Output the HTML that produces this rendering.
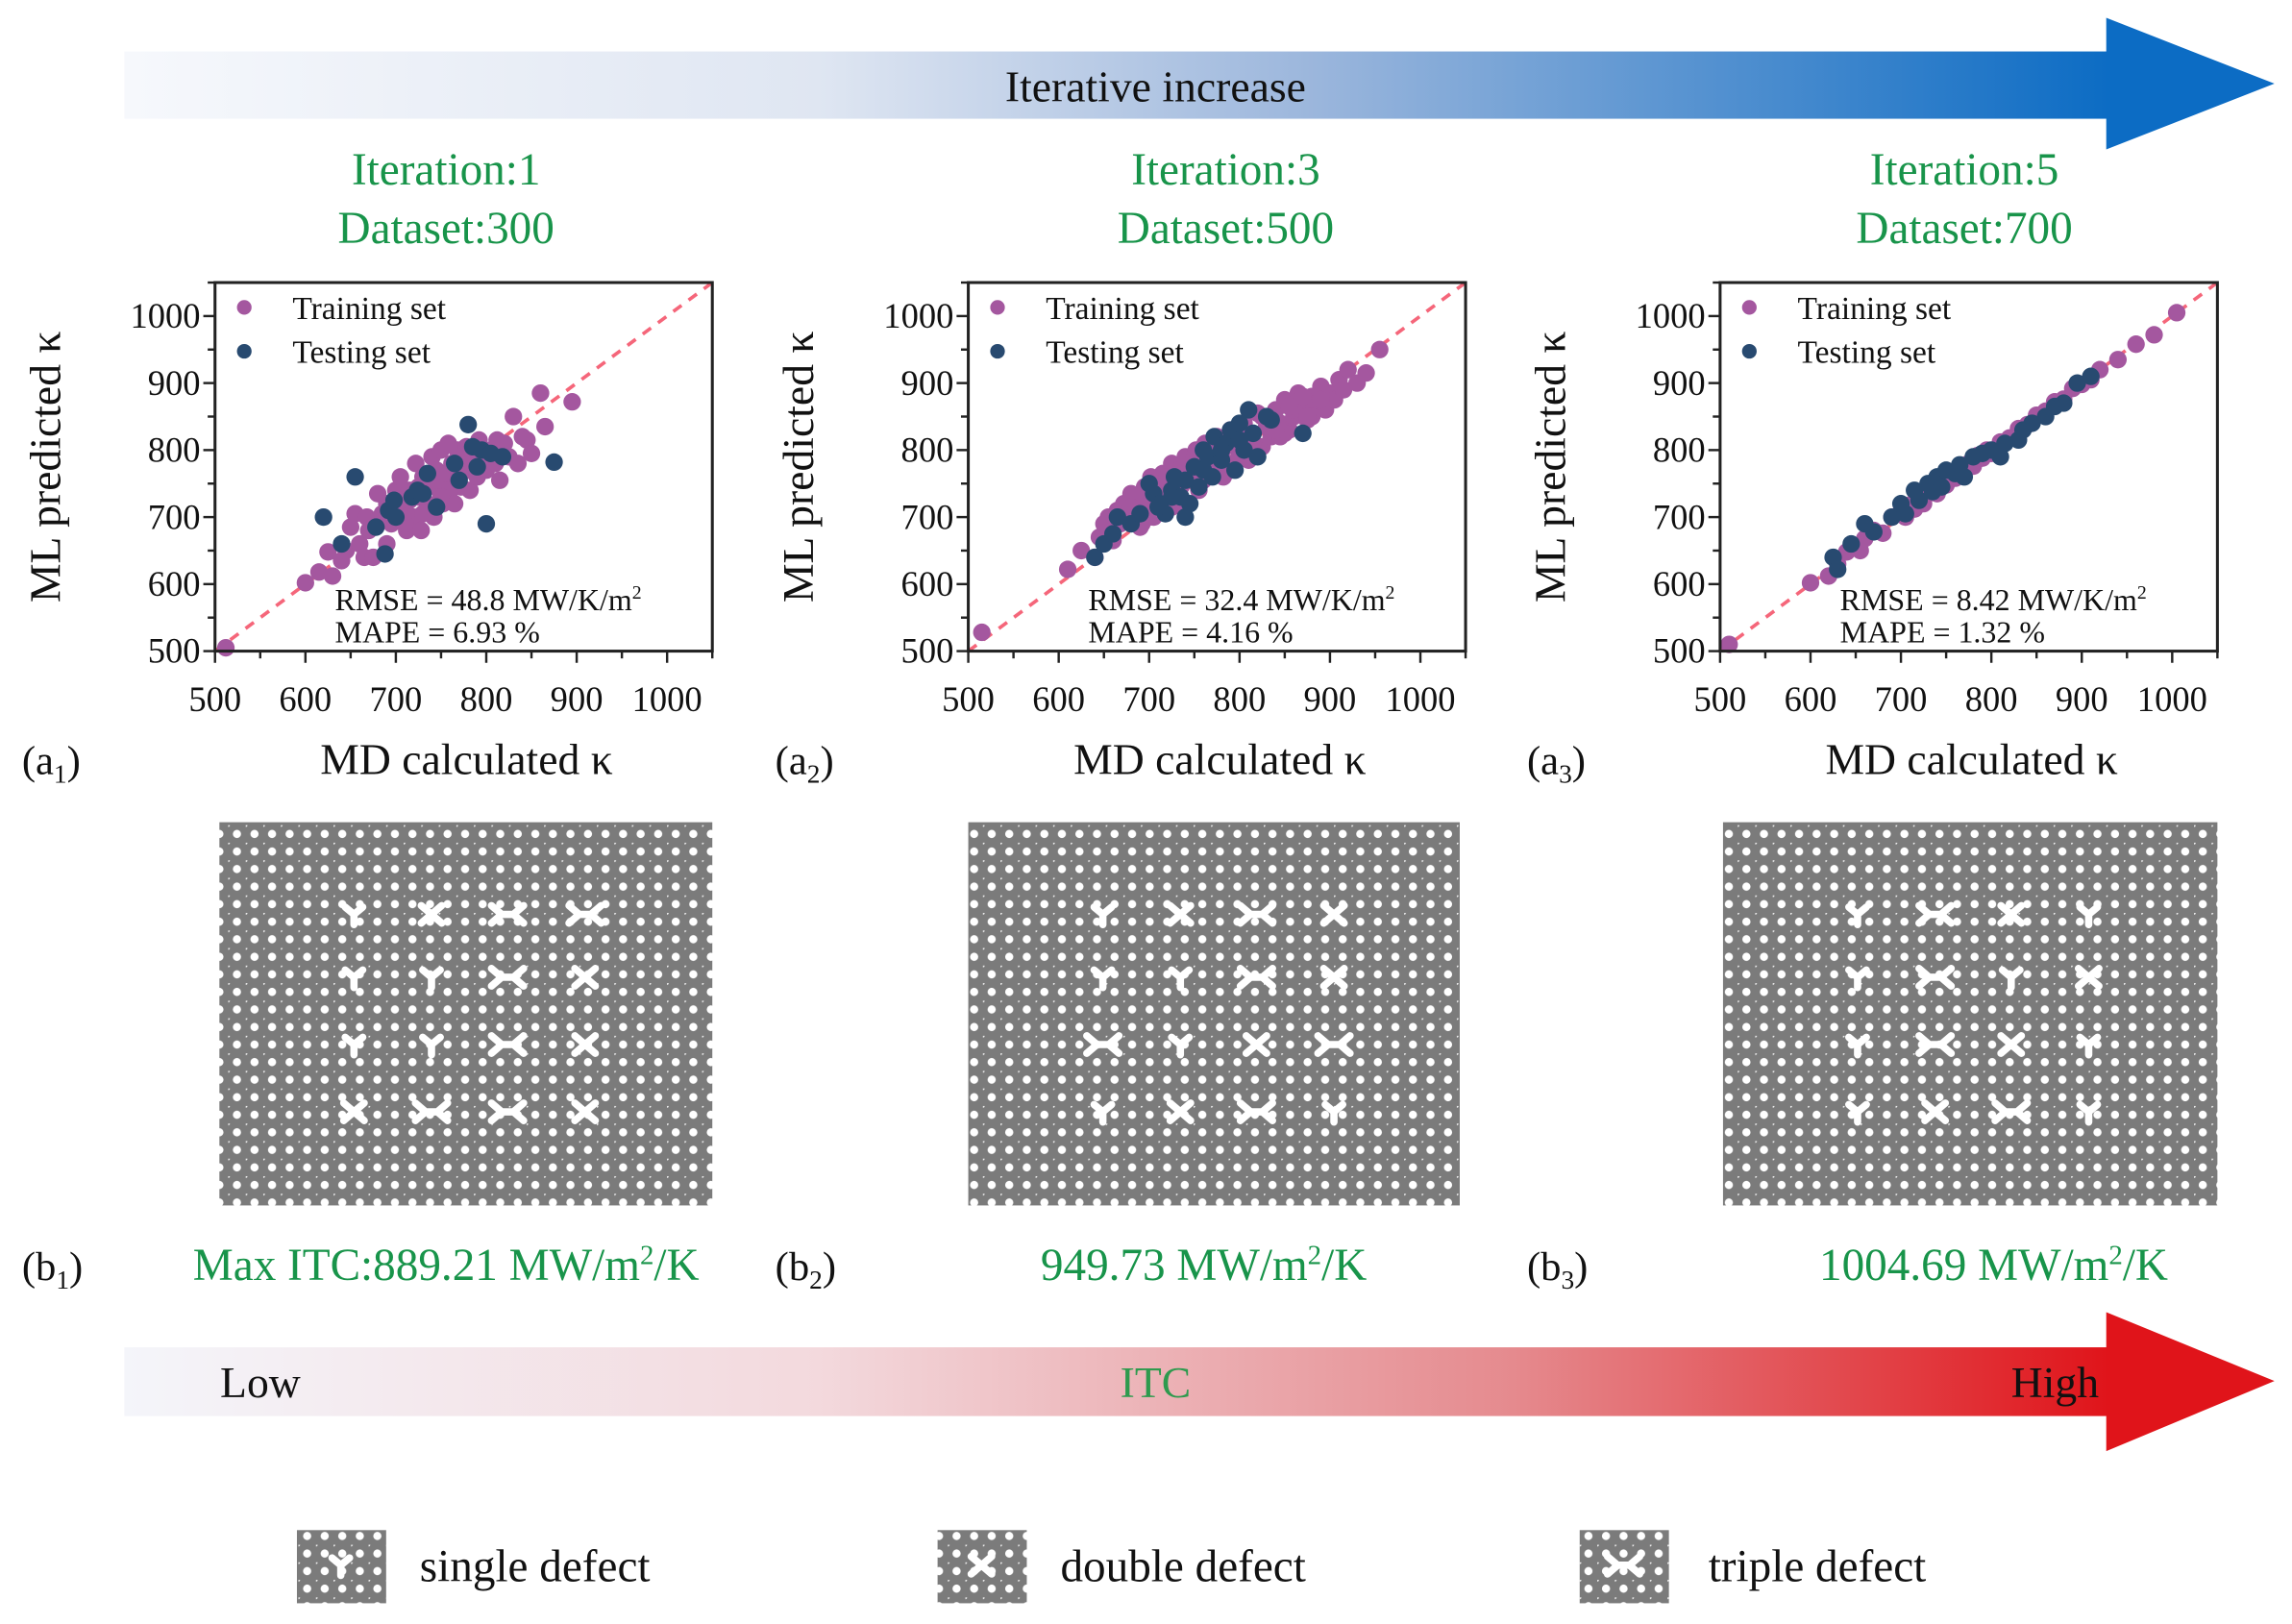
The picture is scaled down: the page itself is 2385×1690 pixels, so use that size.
<!DOCTYPE html>
<html><head><meta charset="utf-8"><style>
html,body{margin:0;padding:0;background:#fff}
svg{display:block;font-family:"Liberation Serif","DejaVu Serif",serif}
svg text{font-family:"Liberation Serif","DejaVu Serif",serif}
</style></head><body>
<svg id="fig" width="2385" height="1690" viewBox="0 0 1567 1110" font-family="Liberation Serif, DejaVu Serif, serif" xmlns="http://www.w3.org/2000/svg">
<defs>
<linearGradient id="gBlue" x1="0" x2="1" y1="0" y2="0"><stop offset="0" stop-color="#f6f8fc"/><stop offset="0.35" stop-color="#dfe6f2"/><stop offset="0.6" stop-color="#9bb6dc"/><stop offset="1" stop-color="#0c6cc4"/></linearGradient>
<linearGradient id="gRed" x1="0" x2="1" y1="0" y2="0"><stop offset="0" stop-color="#f4f5fa"/><stop offset="0.35" stop-color="#f3d9dd"/><stop offset="0.7" stop-color="#e58a8e"/><stop offset="1" stop-color="#e0141a"/></linearGradient>
<pattern id="lat" width="12" height="12" patternUnits="userSpaceOnUse"><rect width="12" height="12" fill="#7b7b7b"/><circle cx="6" cy="6" r="2.8" fill="#fff"/><circle cx="0" cy="0" r="1.2" fill="#eee"/></pattern>
</defs>
<g>
<rect x="85" y="35" width="1357" height="46" fill="url(#gBlue)"/>
<polygon points="1440,12 1555,57 1440,102" fill="#0c6cc4"/>
<text x="790" y="69" font-size="30" text-anchor="middle" fill="#111">Iterative increase</text>
</g>
<g id="plots"></g>
<g>
<rect x="85" y="921" width="1357" height="47" fill="url(#gRed)"/>
<polygon points="1440,897 1555,944 1440,992" fill="#e0141a"/>
<text x="178" y="955" font-size="30" text-anchor="middle" fill="#111">Low</text>
<text x="790" y="955" font-size="30" text-anchor="middle" fill="#2e9a4e">ITC</text>
<text x="1405" y="955" font-size="30" text-anchor="middle" fill="#111">High</text>
</g>
<g id="legend2"></g>
</svg>
<script>
const ticks=[500,600,700,800,900,1000];
const titles1=["Iteration:1","Iteration:3","Iteration:5"];
const titles2=["Dataset:300","Dataset:500","Dataset:700"];
const rmse=["48.8","32.4","8.42"];
const mape=["6.93","4.16","1.32"];
const itc=["Max ITC:889.21 MW/m²/K","949.73 MW/m²/K","1004.69 MW/m²/K"];
const train1X=[512,600,615,625,630,640,645,650,655,660,665,668,670,675,680,685,690,690,695,700,700,705,710,712,715,720,722,725,728,730,735,738,740,742,745,748,750,752,755,758,760,762,765,768,770,772,775,778,780,782,785,790,792,795,800,805,810,812,815,820,825,830,835,840,845,850,860,865,895,705,715,725,735,745,755,765,775,785,795,710,730,750,770,790,810];
const train1Y=[505,602,618,648,612,635,650,685,705,660,640,700,680,640,735,705,660,720,690,740,700,760,715,680,740,700,780,730,680,760,720,750,790,700,770,740,800,720,760,810,740,780,720,800,760,745,790,805,770,740,800,760,815,785,770,800,780,815,755,810,790,850,780,820,815,795,885,835,872,725,725,745,745,755,765,770,775,785,790,690,705,730,750,765,795];
const test1X=[620,640,655,678,688,692,698,700,718,724,730,735,745,765,770,780,785,790,795,800,805,818,875];
const test1Y=[700,660,760,685,645,710,725,700,730,740,735,765,715,780,755,838,805,775,800,690,795,790,782];
const train2X=[515,610,625,640,645,650,655,660,665,668,672,675,680,685,690,692,695,700,702,705,710,712,715,720,722,725,730,732,735,740,742,745,750,752,755,760,762,765,770,772,775,780,782,785,790,792,795,800,805,808,810,815,820,825,830,835,840,845,850,855,860,865,870,875,880,885,890,895,900,905,910,915,920,930,940,955,680,700,715,730,745,760,775,790,805,820,835,850,865,880,690,710,725,740,755,770,785,800,815,830,845,860,875,890,705,720,735,750,765,780,795,810,825,840,855,870];
const train2Y=[528,622,650,640,670,690,700,665,710,690,720,700,735,705,725,690,745,720,760,700,740,720,765,735,750,780,745,770,730,790,755,775,760,800,740,785,810,765,795,775,820,790,760,805,830,780,810,795,840,815,785,825,855,805,835,820,860,840,875,830,850,885,865,845,880,870,895,860,885,875,905,890,920,900,915,950,715,700,750,720,770,755,800,770,820,800,845,825,870,850,685,730,715,765,745,785,775,815,805,835,820,860,850,875,740,760,745,790,775,805,820,795,850,830,865,880];
const test2X=[640,650,660,665,680,690,700,705,712,718,725,728,735,740,745,750,755,760,765,770,772,780,785,790,795,800,805,810,815,820,830,835,870,710,725,740,760,780,800];
const test2Y=[640,660,675,700,690,705,750,735,720,705,740,760,730,755,720,775,745,800,790,760,820,785,810,830,770,840,800,860,825,790,850,845,825,715,730,700,770,800,815];
const train3X=[510,600,620,630,640,650,655,660,670,680,690,700,705,710,715,720,725,730,735,740,745,750,755,760,765,770,775,780,785,790,795,800,810,820,830,840,850,860,870,880,890,900,910,920,940,960,980,1005];
const train3Y=[510,602,612,630,648,655,650,668,680,676,700,708,700,718,712,728,720,735,742,735,755,748,765,758,772,768,780,776,792,788,800,795,812,818,832,838,852,858,872,876,892,898,905,920,935,958,972,1005];
const test3X=[625,630,645,660,670,690,700,705,715,720,730,735,740,745,750,760,765,770,780,790,800,810,815,830,835,845,860,870,880,895,910];
const test3Y=[640,622,660,690,678,700,720,705,740,725,750,738,760,745,770,765,778,760,790,795,800,790,810,815,830,840,850,865,870,900,910];
const series=[[train1X,train1Y,test1X,test1Y],[train2X,train2Y,test2X,test2Y],[train3X,train3Y,test3X,test3Y]];
const NS="http://www.w3.org/2000/svg";
function mk(tag,attrs,parent){const e=document.createElementNS(NS,tag);for(const k in attrs)e.setAttribute(k,attrs[k]);parent.appendChild(e);return e;}
const plots=document.getElementById('plots');
const frames=[147,662,1176];
const centers=[305,838,1343];
const FT=193,FB=445,FW=340;
const lat=[[150,487],[662,998],[1178,1516]];
const defectTypes=[["Y","X","W","W","Y","Y","W","X","Y","Y","W","X","X","W","W","X"],["Y","X","W","X","Y","Y","W","X","W","Y","X","W","Y","X","W","Y"],["Y","W","X","Y","Y","W","Y","X","Y","W","X","Y","Y","X","W","Y"]];
for(let p=0;p<3;p++){
 const L=frames[p];
 const g=mk('g',{},plots);
 
 
 const x=v=>L+(v-500)/550*FW;
 const y=v=>FB-(v-500)/550*(FB-FT);
 const t1=mk('text',{x:centers[p],y:126,'font-size':31,'text-anchor':'middle',fill:'#18944a'},g);t1.textContent=titles1[p];
 
 
 const t2=mk('text',{x:centers[p],y:166,'font-size':31,'text-anchor':'middle',fill:'#18944a'},g);t2.textContent=titles2[p];
 
 
 const d=mk('line',{x1:x(500),y1:y(500),x2:x(1050),y2:y(1050),stroke:'#f5667a','stroke-width':2.4,'stroke-dasharray':'7,6'},g);
 
 
 const [tx,ty,sx,sy]=series[p];
 for(let i=0;i<tx.length;i++){const c=mk('circle',{cx:x(tx[i]),cy:y(ty[i]),r:6,fill:'#a4579f'},g);
  
  }
 for(let i=0;i<sx.length;i++){const c=mk('circle',{cx:x(sx[i]),cy:y(sy[i]),r:6,fill:'#284a70'},g);
  
  }
 const fr=mk('rect',{x:L,y:FT,width:FW,height:FB-FT,fill:'none',stroke:'#222','stroke-width':2},g);
 
 
 for(let v=500;v<=1050;v+=50){const maj=v%100===0;
  mk('line',{x1:x(v),y1:FB,x2:x(v),y2:FB+(maj?8:5),stroke:'#222','stroke-width':1.6},g);
  mk('line',{x1:L,y1:y(v),x2:L-(maj?8:5),y2:y(v),stroke:'#222','stroke-width':1.6},g);}
 ticks.forEach(v=>{
  const a=mk('text',{x:x(v),y:486,'font-size':24,'text-anchor':'middle',fill:'#111'},g);a.textContent=v;
  
  
  const b=mk('text',{x:L-10,y:y(v)+8,'font-size':24,'text-anchor':'end',fill:'#111'},g);b.textContent=v;
  
  });
 const yl=mk('text',{x:0,y:0,'font-size':30,'text-anchor':'middle',fill:'#111',transform:`translate(${L-106},${(FT+FB)/2}) rotate(-90)`},g);yl.textContent='ML predicted κ';
 
 
 const xl=mk('text',{x:L+172,y:529,'font-size':30,'text-anchor':'middle',fill:'#111'},g);xl.textContent='MD calculated κ';
 
 
 const pl=mk('text',{x:L-132,y:529,'font-size':28,fill:'#111'},g);pl.innerHTML='(a<tspan font-size="18" dy="6">'+(p+1)+'</tspan><tspan dy="-6">)</tspan>';
 
 
 const lc1=mk('circle',{cx:L+20,cy:210,r:5,fill:'#a4579f'},g);
 
 
 const lt1=mk('text',{x:L+53,y:218,'font-size':22,fill:'#111'},g);lt1.textContent='Training set';
 
 
 const lc2=mk('circle',{cx:L+20,cy:240,r:5,fill:'#284a70'},g);
 
 
 const lt2=mk('text',{x:L+53,y:248,'font-size':22,fill:'#111'},g);lt2.textContent='Testing set';
 
 
 const r1=mk('text',{x:L+82,y:417,'font-size':21,fill:'#111'},g);r1.innerHTML='RMSE = '+rmse[p]+' MW/K/m<tspan font-size="13" dy="-8">2</tspan>';
 
 
 const r2=mk('text',{x:L+82,y:439,'font-size':21,fill:'#111'},g);r2.textContent='MAPE = '+mape[p]+' %';
 
 
 const [lx0,lx1]=lat[p];
 const lg=mk('g',{},g);
 
 
 mk('rect',{x:lx0,y:562,width:lx1-lx0,height:262,fill:'url(#lat)'},lg);
 const cols=[lx0+92,lx0+145,lx0+197,lx0+250],rows=[625,668,714,760];
 let k=0;
 rows.forEach(ry=>cols.forEach(cx=>{const t=defectTypes[p][k++];
  let dpath;
  if(t==='Y')dpath=`M${cx-6},${ry-5}L${cx},${ry}L${cx+6},${ry-5}M${cx},${ry}L${cx},${ry+7}`;
  else if(t==='X')dpath=`M${cx-7},${ry-6}L${cx+7},${ry+6}M${cx+7},${ry-6}L${cx-7},${ry+6}`;
  else dpath=`M${cx-11},${ry-6}L${cx-4},${ry}L${cx+4},${ry}L${cx+11},${ry-6}M${cx-11},${ry+6}L${cx-4},${ry}M${cx+4},${ry}L${cx+11},${ry+6}`;
  mk('path',{d:dpath,stroke:'#fff','stroke-width':5,'stroke-linecap':'round',fill:'none'},lg);}));
 const bl=mk('text',{x:L-132,y:875,'font-size':28,fill:'#111'},g);bl.innerHTML='(b<tspan font-size="18" dy="6">'+(p+1)+'</tspan><tspan dy="-6">)</tspan>';
 
 
 const it=mk('text',{x:[305,823,1363][p],y:875,'font-size':31,'text-anchor':'middle',fill:'#18944a'},g);
 it.innerHTML=itc[p].replace('m²/K','m<tspan font-size="19" dy="-11">2</tspan><tspan dy="11">/K</tspan>');
 
 
}
const lg2=document.getElementById('legend2');
const legItems=[["single defect",203,287,"Y"],["double defect",641,725,"X"],["triple  defect",1080,1168,"W"]];
legItems.forEach(([lab,ix,tx,t])=>{
 const g=mk('g',{},lg2);
 
 
 mk('rect',{x:ix,y:1046,width:61,height:50,fill:'url(#lat)'},g);
 const cx=ix+30,ry=1070;let dpath;
 if(t==='Y')dpath=`M${cx-6},${ry-5}L${cx},${ry}L${cx+6},${ry-5}M${cx},${ry}L${cx},${ry+7}`;
 else if(t==='X')dpath=`M${cx-7},${ry-6}L${cx+7},${ry+6}M${cx+7},${ry-6}L${cx-7},${ry+6}`;
 else dpath=`M${cx-11},${ry-6}L${cx-4},${ry}L${cx+4},${ry}L${cx+11},${ry-6}M${cx-11},${ry+6}L${cx-4},${ry}M${cx+4},${ry}L${cx+11},${ry+6}`;
 mk('path',{d:dpath,stroke:'#fff','stroke-width':5,'stroke-linecap':'round',fill:'none'},g);
 const tt=mk('text',{x:tx,y:1081,'font-size':31,fill:'#111','xml:space':'preserve'},g);tt.textContent=lab;
 
 
});
</script>
</body></html>
